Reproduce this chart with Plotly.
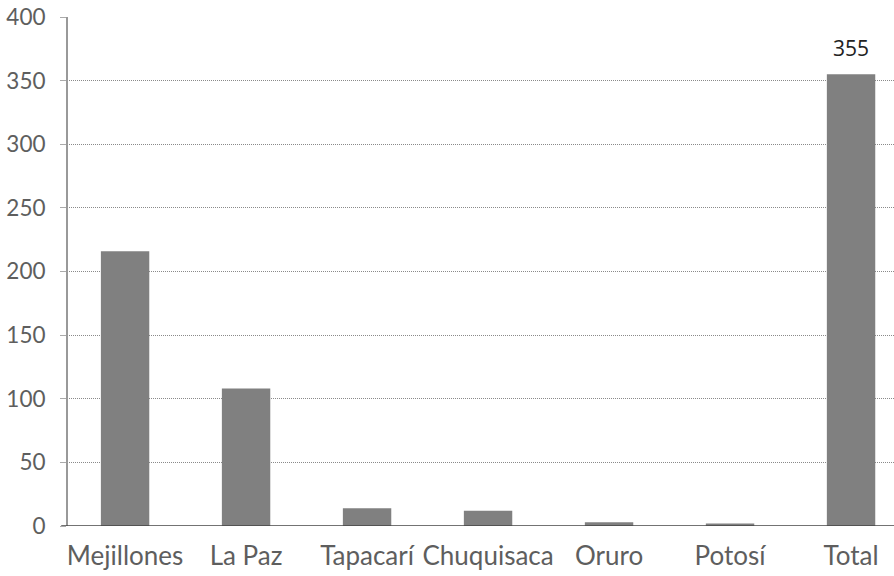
import plotly.graph_objects as go

categories = ["Mejillones", "La Paz", "Tapacarí", "Chuquisaca", "Oruro", "Potosí", "Total"]
values = [216, 108, 14, 12, 3, 2, 355]
y_ticks = [0, 50, 100, 150, 200, 250, 300, 350, 400]

FONT = "Lato, 'Open Sans', sans-serif"

fig = go.Figure()
fig.add_trace(go.Bar(
    x=list(range(len(categories))), y=values,
    marker=dict(color="#808080", line=dict(width=0)),
    width=0.4,
    cliponaxis=False,
))

fig.add_annotation(x=len(categories) - 1, y=values[-1], text=str(values[-1]),
                   showarrow=False, yanchor="bottom", yshift=10,
                   font=dict(family="'Open Sans', sans-serif", size=21, color="#222222"))

fig.update_layout(
    width=894, height=576,
    margin=dict(l=67, r=0, t=17, b=50),
    plot_bgcolor="white", paper_bgcolor="white",
    showlegend=False,
    font=dict(family=FONT, color="#5e5e5e", size=21),
    xaxis=dict(
        range=[-0.48, 6.355], automargin=False,
        tickmode="array", tickvals=list(range(len(categories))), ticktext=categories,
        showgrid=False, zeroline=False, showline=False, ticks="",
        tickfont=dict(size=26, color="#5e5e5e"),
        ticklabelstandoff=12,
    ),
    yaxis=dict(
        range=[0, 400], tickmode="array", tickvals=y_ticks, automargin=False,
        showgrid=True, gridcolor="#8a8a8a", griddash="1px,1px", gridwidth=1,
        zeroline=False, showline=False,
        ticks="outside", ticklen=6, tickcolor="#aaaaaa",
        tickfont=dict(size=22.5, color="#5e5e5e"),
        ticklabelstandoff=10,
    ),
)

# y axis line (extends slightly beyond range) and zero baseline
fig.add_shape(type="line", xref="paper", yref="y", x0=0, x1=0, y0=-7, y1=403,
              line=dict(color="#999999", width=2))
fig.add_shape(type="line", xref="paper", yref="y", x0=-0.007, x1=1, y0=0, y1=0,
              line=dict(color="#444444", width=1.5))

fig.write_html("out.html", config={"displayModeBar": False},
               post_script="document.body.style.margin='0';")
